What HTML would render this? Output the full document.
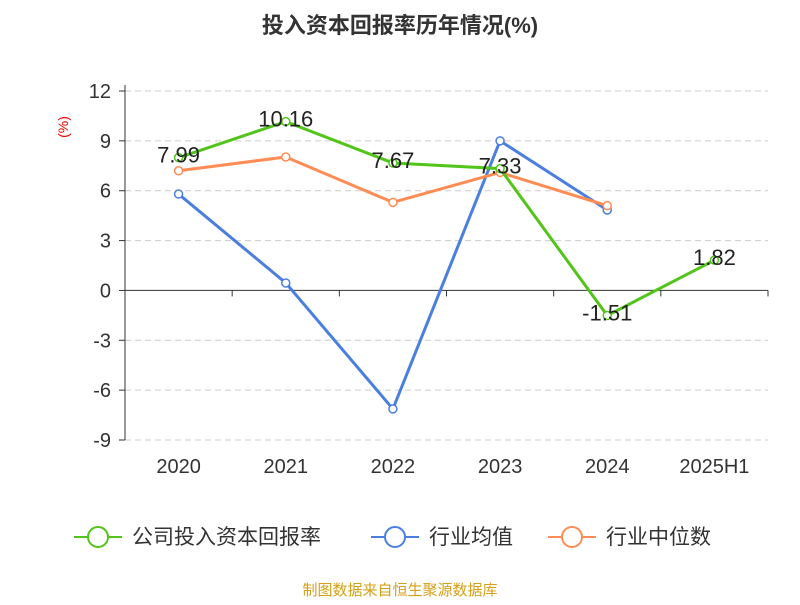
<!DOCTYPE html>
<html><head><meta charset="utf-8"><style>
body{margin:0;background:#fff;font-family:"Liberation Sans","Noto Sans CJK SC",sans-serif}
</style></head><body>
<svg width="800" height="600" xmlns="http://www.w3.org/2000/svg" font-family="Liberation Sans, Noto Sans CJK SC, sans-serif">
<text x="400" y="33" text-anchor="middle" font-size="22" font-weight="bold" fill="#333">投入资本回报率历年情况(%)</text>
<text transform="translate(68,127) rotate(-90)" text-anchor="middle" font-size="14" fill="#e00">(%)</text>
<g id="grid"></g><g id="axes"></g><g id="series"></g>
<g font-size="21" fill="#333">
<g><line x1="74" y1="537" x2="122" y2="537" stroke="#52c41a" stroke-width="2"/><circle cx="98" cy="537" r="10" fill="#fff" stroke="#52c41a" stroke-width="2"/><text x="132" y="544">公司投入资本回报率</text></g>
<g><line x1="371" y1="537" x2="419" y2="537" stroke="#4a7fe0" stroke-width="2"/><circle cx="395" cy="537" r="10" fill="#fff" stroke="#4a7fe0" stroke-width="2"/><text x="429" y="544">行业均值</text></g>
<g><line x1="548" y1="537" x2="596" y2="537" stroke="#ff8c55" stroke-width="2"/><circle cx="572" cy="537" r="10" fill="#fff" stroke="#ff8c55" stroke-width="2"/><text x="606" y="544">行业中位数</text></g>
</g>
<text x="400" y="595" text-anchor="middle" font-size="15" fill="#d4a017">制图数据来自恒生聚源数据库</text>
</svg>
<script>
const categories=["2020","2021","2022","2023","2024","2025H1"];
const companyValues=[7.99,10.16,7.67,7.33,-1.51,1.82];
const industryAvg=[5.8,0.45,-7.13,9.0,4.84];
const industryMedian=[7.2,8.03,5.3,7.1,5.1];
const yTicks=[12,9,6,3,0,-3,-6,-9];
const NS="http://www.w3.org/2000/svg";
const x0=125,x1=768,yTop=91,yBot=440,yMax=12,yMin=-9;
const bw=(x1-x0)/categories.length;
const X=i=>x0+bw*(i+0.5);
const Y=v=>yTop+(yMax-v)/(yMax-yMin)*(yBot-yTop);
function mk(tag,attrs,parent){const e=document.createElementNS(NS,tag);for(const k in attrs)e.setAttribute(k,attrs[k]);document.getElementById(parent).appendChild(e);return e;}
yTicks.forEach(t=>{
 if(t!==0){const g=mk('line',{x1:x0,x2:x1,y1:Y(t),y2:Y(t),stroke:'#ccc','stroke-dasharray':'6,4'},'grid');
 
 }
 const tk=mk('line',{x1:x0-6,x2:x0,y1:Y(t),y2:Y(t),stroke:'#333'},'axes');
 
 
 const tx=mk('text',{x:x0-14,y:Y(t)+7,'text-anchor':'end','font-size':'20',fill:'#333'},'axes');
 tx.textContent=t;
 
 
});
const ya=mk('line',{x1:x0,x2:x0,y1:yTop-6,y2:yBot,stroke:'#333'},'axes');


const xa=mk('line',{x1:x0,x2:x1,y1:Y(0),y2:Y(0),stroke:'#333'},'axes');


for(let i=0;i<=categories.length;i++){const t=mk('line',{x1:x0+bw*i,x2:x0+bw*i,y1:Y(0),y2:Y(0)+6,stroke:'#333'},'axes');

}
categories.forEach((c,i)=>{const t=mk('text',{x:X(i),y:473,'text-anchor':'middle','font-size':'20',fill:'#333'},'axes');t.textContent=c;

});
function series(vals,color,name,labels){
 const pl=mk('polyline',{points:vals.map((v,i)=>X(i)+','+Y(v)).join(' '),fill:'none',stroke:color,'stroke-width':'3'},'series');
 
 
 vals.forEach((v,i)=>{const c=mk('circle',{cx:X(i),cy:Y(v),r:4,fill:'#fff',stroke:color,'stroke-width':'1.5'},'series');
 
 
 if(labels){const t=mk('text',{x:X(i),y:Y(v)+5,'text-anchor':'middle','font-size':'22',fill:'#222'},'series');t.textContent=v.toFixed(2);
 
 }});
}
series(industryAvg,'#4a7fe0','industry-avg',false);
series(industryMedian,'#ff8c55','industry-median',false);
series(companyValues,'#52c41a','company',true);
</script>
</body></html>
